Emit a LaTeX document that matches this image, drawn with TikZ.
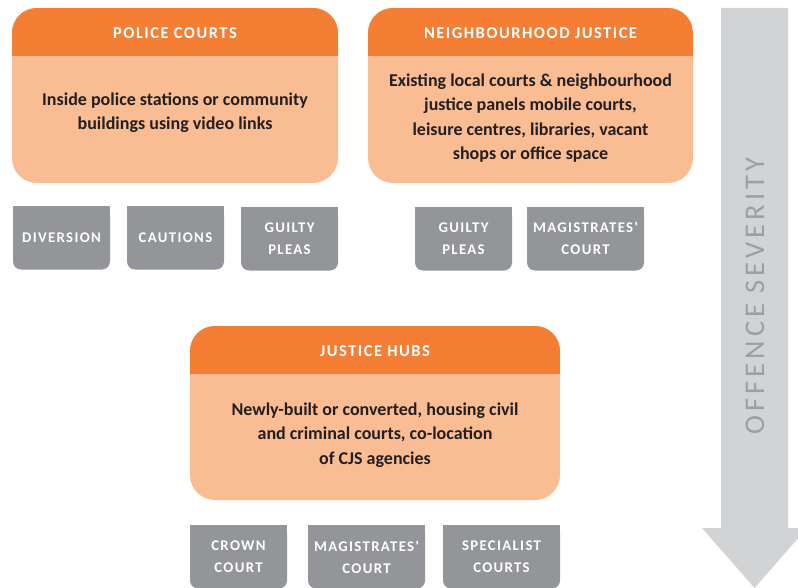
\documentclass[tikz,border=0pt]{standalone}
\usepackage{fontspec}
\setmainfont{Carlito}
\newfontfamily\capsfont[LetterSpace=9]{Carlito}
\newfontfamily\widecaps[LetterSpace=14]{Carlito}
\usetikzlibrary{backgrounds}

\definecolor{hdr}{HTML}{F47E33}
\definecolor{panel}{HTML}{F9BC93}
\definecolor{tag}{HTML}{939598}
\definecolor{arrowgrey}{HTML}{D1D3D4}
\definecolor{arrowtext}{HTML}{9D9FA2}
\definecolor{ink}{HTML}{231F20}

\tikzset{
  venue/.style={fill=panel, rounded corners=25pt, inner sep=0pt,
    path picture={\fill[hdr, sharp corners] (path picture bounding box.north west)
      rectangle ([yshift=-48pt]path picture bounding box.north east);}},
  venuetitle/.style={text=white, inner sep=0pt,
    font=\capsfont\bfseries\fontsize{16.5}{19}\selectfont},
  venuetext/.style={align=center, inner sep=0pt, text=ink,
    font=\bfseries\fontsize{18}{24.5}\selectfont},
  tagbox/.style={fill=tag, rounded corners=8pt, text=white, align=center,
    inner sep=0pt, minimum height=63pt,
    font=\capsfont\bfseries\fontsize{14.8}{22}\selectfont},
  squaretop/.style={fill=tag, sharp corners},
}

\begin{document}
\begin{tikzpicture}[x=1pt,y=-1pt]
  \clip (0,0) rectangle (798,588);

  % severity arrow
  \fill[arrowgrey] (721,8) -- (788,8) -- (788,528) -- (807,528)
    -- (754.5,588) -- (702,528) -- (721,528) -- cycle;
  \node[rotate=90, text=arrowtext, inner sep=0pt,
    font=\widecaps\fontsize{28.5}{30}\selectfont] (severity) at (755,296)
    {OFFENCE SEVERITY};

  % venue panels
  \node[venue, minimum width=326pt, minimum height=175pt] (police) at (175,95.5) {};
  \node[venuetitle] (policeT) at (175,33) {POLICE COURTS};
  \node[venuetext] (policeB) at (175,112.5)
    {Inside police stations or community\\buildings using video links};

  \node[venue, minimum width=325pt, minimum height=175pt] (neigh) at (530.5,95.5) {};
  \node[venuetitle] (neighT) at (530.5,33) {NEIGHBOURHOOD JUSTICE};
  \node[venuetext] (neighB) at (530.5,118)
    {Existing local courts \& neighbourhood\\justice panels mobile courts,\\leisure centres, libraries, vacant\\shops or office space};

  \node[venue, minimum width=370pt, minimum height=174pt] (hubs) at (375,413) {};
  \node[venuetitle] (hubsT) at (375,351.5) {JUSTICE HUBS};
  \node[venuetext] (hubsB) at (375,435)
    {Newly-built or converted, housing civil\\and criminal courts, co-location\\of CJS agencies};

  % outcome tags
  \node[tagbox, minimum width=97pt]  (diversion) at (61.5,238) {DIVERSION};
  \node[tagbox, minimum width=97pt]  (cautions)  at (175.5,238) {CAUTIONS};
  \node[tagbox, minimum width=97pt]  (pleasA)    at (289.5,239) {GUILTY\\PLEAS};
  \node[tagbox, minimum width=97pt]  (pleasB)    at (463.5,239) {GUILTY\\PLEAS};
  \node[tagbox, minimum width=117pt] (magA)      at (585.5,239) {MAGISTRATES'\\COURT};
  \node[tagbox, minimum width=97pt]  (crown)     at (238.5,557) {CROWN\\COURT};
  \node[tagbox, minimum width=117pt] (magB)      at (366.5,557) {MAGISTRATES'\\COURT};
  \node[tagbox, minimum width=117pt] (special)   at (501.5,557) {SPECIALIST\\COURTS};

  % square off the top corners of the tags
  \begin{scope}[on background layer]
    \foreach \t in {diversion,cautions,pleasA,pleasB,magA,crown,magB,special}
      \fill[squaretop] (\t.north west) rectangle (\t.east);
  \end{scope}
\end{tikzpicture}
\end{document}
